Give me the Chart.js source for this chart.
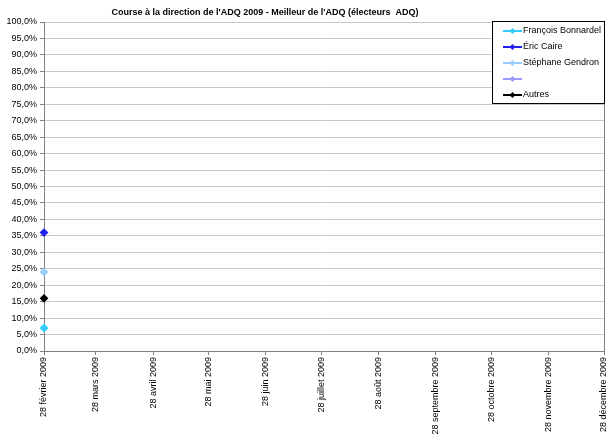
<!DOCTYPE html>
<html>
<head>
<meta charset="utf-8">
<script src="https://cdn.jsdelivr.net/npm/chart.js@4"></script>
<style>
  html, body { margin: 0; padding: 0; background: #fff; }
  #wrap { width: 610px; height: 443px; position: relative; }
</style>
</head>
<body>
<div id="wrap"><canvas id="chart"></canvas></div>
<script>
// sondage ADQ 2009 - un seul point par candidat
const titleText = "Course à la direction de l'ADQ 2009 - Meilleur de l'ADQ (électeurs  ADQ)";
const tickDays = [0, 28, 59, 89, 120, 150, 181, 212, 242, 273, 303];
const tickLabels = ['28 février 2009', '28 mars 2009', '28 avril 2009', '28 mai 2009', '28 juin 2009',
    '28 juillet 2009', '28 août 2009', '28 septembre 2009', '28 octobre 2009', '28 novembre 2009', '28 décembre 2009'];
const seriesNames = ['François Bonnardel', 'Éric Caire', 'Stéphane Gendron', '', 'Autres'];
const seriesColors = ['#33ccff', '#2222ee', '#99ccff', '#9999ff', '#000000'];
const pollDays = [0];
const bonnardel = [7];
const caire = [36];
const gendron = [24];
const vide = [null];
const autres = [16];

const values = [bonnardel, caire, gendron, vide, autres];

const datasets = seriesNames.map((name, i) => ({
    label: name,
    data: pollDays.map((d, j) => ({ x: d, y: values[i][j] })),
    borderColor: seriesColors[i],
    backgroundColor: seriesColors[i],
    borderWidth: 2,
    pointStyle: 'rectRot',
    pointRadius: 3,
    showLine: true,
    clip: false
}));

// custom legend + title + right border, drawn like the Excel chart
const excelBits = {
    id: 'excelBits',
    afterDraw(chart) {
        const ctx = chart.ctx;
        const a = chart.chartArea;
        ctx.save();
        ctx.strokeStyle = '#808080';
        ctx.lineWidth = 1;
        ctx.beginPath();
        ctx.moveTo(a.right + 0.5, a.top);
        ctx.lineTo(a.right + 0.5, a.bottom);
        ctx.stroke();

        // title
        ctx.fillStyle = '#000';
        ctx.font = 'bold 9px "Liberation Sans", Arial, sans-serif';
        ctx.textAlign = 'center';
        ctx.textBaseline = 'middle';
        ctx.fillText(titleText, 265, 13);

        // legend box
        const lx = 492, ly = 21, lw = 112, lh = 82;
        ctx.fillStyle = '#fff';
        ctx.fillRect(lx, ly, lw, lh);
        ctx.strokeStyle = '#000';
        ctx.strokeRect(lx + 0.5, ly + 0.5, lw, lh);
        ctx.font = '9px "Liberation Sans", Arial, sans-serif';
        ctx.textAlign = 'left';
        chart.data.datasets.forEach((ds, i) => {
            const y = 31 + i * 16;
            ctx.strokeStyle = ds.borderColor;
            ctx.lineWidth = 2;
            ctx.beginPath();
            ctx.moveTo(503, y);
            ctx.lineTo(522, y);
            ctx.stroke();
            ctx.fillStyle = ds.borderColor;
            ctx.beginPath();
            ctx.moveTo(512.5, y - 3);
            ctx.lineTo(515.5, y);
            ctx.lineTo(512.5, y + 3);
            ctx.lineTo(509.5, y);
            ctx.closePath();
            ctx.fill();
            ctx.fillStyle = '#000';
            ctx.fillText(ds.label, 523, y);
        });
        ctx.restore();
    }
};

new Chart(document.getElementById('chart'), {
    type: 'scatter',
    data: { datasets: datasets },
    options: {
        responsive: true,
        maintainAspectRatio: false,
        animation: false,
        layout: { padding: { top: 22, right: 6, left: 0, bottom: 0 } },
        plugins: {
            legend: { display: false },
            title: { display: false },
            tooltip: { enabled: false }
        },
        scales: {
            x: {
                type: 'linear',
                min: 0,
                max: 303,
                afterBuildTicks(scale) {
                    scale.ticks = tickDays.map(v => ({ value: v }));
                },
                afterFit(scale) {
                    scale.height = 92;
                    scale.paddingLeft = 0;
                    scale.paddingRight = 0;
                },
                ticks: {
                    autoSkip: false,
                    minRotation: 90,
                    maxRotation: 90,
                    padding: 2,
                    color: '#000',
                    font: { family: '"Liberation Sans", Arial, sans-serif', size: 9 },
                    callback: function(val, index) { return tickLabels[index]; }
                },
                grid: { drawOnChartArea: false, drawTicks: true, tickLength: 4, color: '#808080' },
                border: { color: '#808080', width: 1 }
            },
            y: {
                min: 0,
                max: 100,
                afterFit(scale) {
                    scale.width = 44;
                    scale.paddingTop = 0;
                    scale.paddingBottom = 0;
                },
                ticks: {
                    stepSize: 5,
                    padding: 3,
                    color: '#000',
                    font: { family: '"Liberation Sans", Arial, sans-serif', size: 9 },
                    callback: v => v.toFixed(1).replace('.', ',') + '%'
                },
                grid: { color: '#c8c8c8', tickLength: 4, tickColor: '#808080' },
                border: { color: '#808080', width: 1 }
            }
        }
    },
    plugins: [excelBits]
});
</script>
</body>
</html>
